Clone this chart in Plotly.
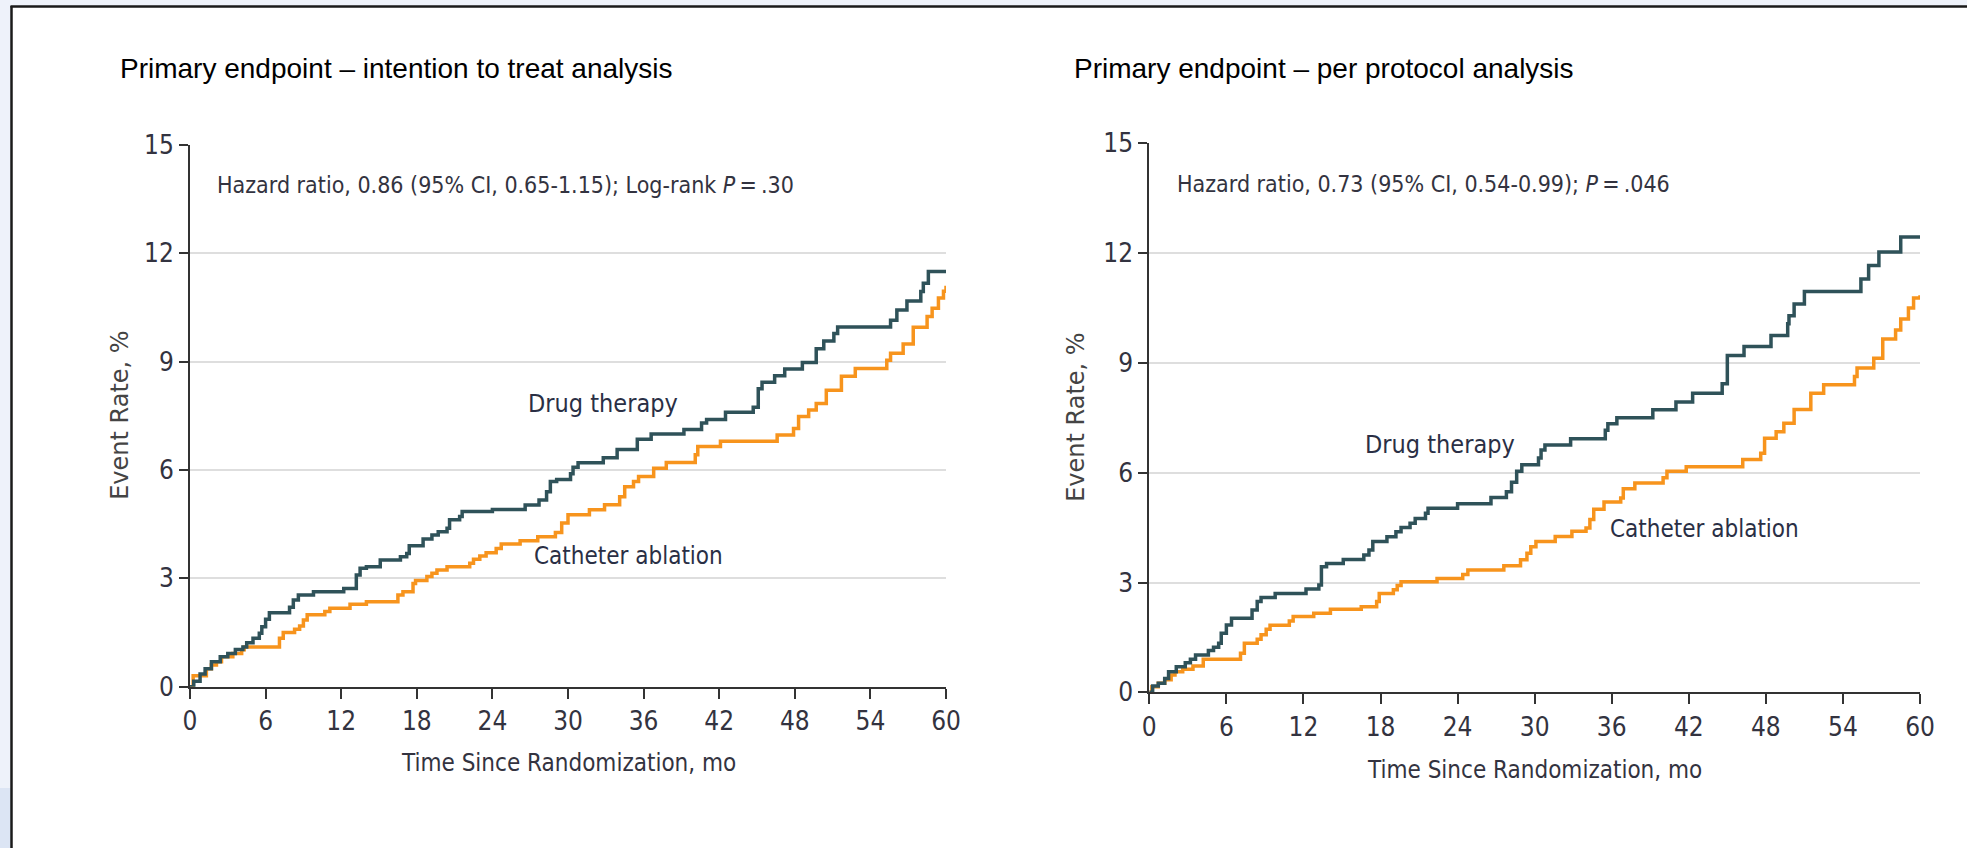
import plotly.graph_objects as go

W, H = 1967, 848

# ---------------- data ----------------
itt_drug_t = [0, 0.3, 0.8, 1.2, 1.7, 2.4, 3.0, 3.6, 4.2, 4.5, 5.0, 5.5, 5.7, 6.0, 6.3, 7.9, 8.2, 8.6, 9.8,
              12.2, 13.2, 13.5, 14.0, 15.1, 16.7, 17.2, 17.4, 18.5, 19.2, 19.7, 20.4, 20.6, 21.4, 21.6, 24.0,
              26.6, 27.7, 28.3, 28.6, 29.1, 30.2, 30.4, 30.8, 32.8, 33.9, 35.5, 36.6, 39.2, 40.6, 41.0, 42.5,
              44.7, 45.1, 45.4, 46.4, 47.2, 48.6, 49.7, 50.3, 51.1, 51.4, 55.6, 56.1, 56.9, 58.0, 58.2, 58.6, 60.0]
itt_drug_v = [0, 0.15, 0.35, 0.5, 0.69, 0.83, 0.92, 1.03, 1.1, 1.22, 1.34, 1.48, 1.66, 1.87, 2.05, 2.2, 2.4, 2.54, 2.63,
              2.72, 3.09, 3.28, 3.32, 3.51, 3.6, 3.69, 3.9, 4.09, 4.2, 4.29, 4.39, 4.62, 4.71, 4.85, 4.91,
              5.03, 5.17, 5.4, 5.68, 5.74, 5.9, 6.08, 6.2, 6.34, 6.57, 6.85, 7.0, 7.12, 7.3, 7.4, 7.6,
              7.74, 8.25, 8.43, 8.61, 8.8, 8.98, 9.36, 9.57, 9.78, 9.96, 10.15, 10.43, 10.68, 10.94, 11.17, 11.5, 11.5]

itt_cath_t = [0, 0.25, 1.3, 1.7, 2.1, 2.5, 3.4, 4.1, 4.3, 7.1, 7.4, 8.3, 8.7, 9.0, 9.3, 10.7, 11.1, 12.7, 14.0,
              16.5, 16.9, 17.7, 17.9, 18.8, 19.2, 19.6, 20.4, 22.2, 22.5, 23.0, 23.5, 24.3, 24.7, 26.2, 27.6,
              29.0, 29.5, 30.0, 31.7, 32.9, 34.1, 34.5, 35.2, 35.6, 36.8, 37.8, 40.1, 40.3, 42.1, 46.6, 47.9,
              48.3, 49.1, 49.7, 50.5, 51.7, 52.8, 55.3, 55.6, 56.6, 57.4, 58.5, 58.9, 59.4, 59.8, 60.0]
itt_cath_v = [0, 0.3, 0.5, 0.6, 0.69, 0.83, 0.92, 1.02, 1.1, 1.34, 1.5, 1.59, 1.68, 1.85, 1.99, 2.08, 2.17, 2.28, 2.35,
              2.54, 2.63, 2.86, 2.94, 3.05, 3.14, 3.23, 3.32, 3.42, 3.53, 3.62, 3.71, 3.83, 3.95, 4.04, 4.15,
              4.27, 4.53, 4.76, 4.9, 5.04, 5.26, 5.54, 5.68, 5.82, 6.05, 6.21, 6.42, 6.65, 6.8, 6.97, 7.15,
              7.48, 7.66, 7.84, 8.21, 8.6, 8.81, 9.04, 9.23, 9.49, 9.95, 10.25, 10.48, 10.76, 10.95, 11.1]

pp_drug_t = [0, 0.26, 0.7, 1.2, 1.5, 2.1, 2.8, 3.2, 3.6, 4.6, 5.0, 5.4, 5.6, 6.0, 6.4, 8.0, 8.4, 8.7, 9.8,
             12.2, 13.2, 13.4, 13.8, 15.1, 16.7, 17.1, 17.4, 18.5, 19.2, 19.6, 20.3, 20.7, 21.5, 21.7, 24.0,
             26.6, 27.8, 28.2, 28.6, 29.0, 30.3, 30.5, 30.8, 32.8, 35.5, 35.7, 36.4, 39.2, 41.0, 42.3, 44.6,
             45.0, 46.3, 48.4, 49.7, 49.8, 50.2, 51.0, 55.4, 56.0, 56.8, 58.5, 60.0]
pp_drug_v = [0, 0.17, 0.25, 0.38, 0.56, 0.7, 0.81, 0.9, 1.02, 1.14, 1.23, 1.34, 1.61, 1.84, 2.02, 2.25, 2.48, 2.59, 2.7,
             2.82, 2.93, 3.43, 3.52, 3.63, 3.75, 3.89, 4.12, 4.25, 4.39, 4.5, 4.62, 4.75, 4.89, 5.03, 5.15,
             5.32, 5.48, 5.74, 6.04, 6.22, 6.4, 6.62, 6.76, 6.93, 7.16, 7.34, 7.5, 7.72, 7.93, 8.17, 8.43,
             9.2, 9.45, 9.75, 10.07, 10.29, 10.61, 10.95, 11.29, 11.66, 12.03, 12.44, 12.44]

pp_cath_t = [0, 0.2, 0.7, 1.2, 1.7, 2.0, 2.6, 3.4, 4.2, 7.1, 7.4, 8.4, 8.7, 9.1, 9.4, 10.9, 11.2, 12.8, 14.1,
             16.5, 17.7, 17.9, 19.0, 19.3, 19.6, 22.4, 24.4, 24.8, 27.6, 28.9, 29.4, 29.7, 30.1, 31.6, 32.9,
             34.0, 34.3, 34.6, 35.4, 36.7, 36.9, 37.8, 40.0, 40.3, 41.8, 46.2, 47.6, 47.9, 48.8, 49.4, 50.2,
             51.5, 52.5, 54.9, 55.1, 56.4, 57.1, 58.1, 58.5, 59.1, 59.5, 60.0]
pp_cath_v = [0, 0.15, 0.25, 0.34, 0.47, 0.56, 0.63, 0.72, 0.9, 1.07, 1.34, 1.45, 1.57, 1.72, 1.83, 1.95, 2.07, 2.16, 2.27,
             2.34, 2.48, 2.7, 2.8, 2.92, 3.02, 3.11, 3.22, 3.34, 3.46, 3.62, 3.8, 3.98, 4.12, 4.26, 4.4,
             4.49, 4.72, 5.0, 5.2, 5.31, 5.56, 5.72, 5.86, 6.04, 6.16, 6.36, 6.53, 6.94, 7.12, 7.35, 7.73,
             8.17, 8.4, 8.63, 8.86, 9.13, 9.65, 9.9, 10.2, 10.5, 10.77, 10.85]

x_ticks = [0, 6, 12, 18, 24, 30, 36, 42, 48, 54, 60]
y_ticks = [0, 3, 6, 9, 12, 15]

titles = ["Primary endpoint \u2013 intention to treat analysis",
          "Primary endpoint \u2013 per protocol analysis"]
hr_texts = ["Hazard ratio, 0.86 (95% CI, 0.65-1.15); Log-rank <i>P</i>\u2009=\u2009.30",
            "Hazard ratio, 0.73 (95% CI, 0.54-0.99); <i>P</i>\u2009=\u2009.046"]
series_names = ["Drug therapy", "Catheter ablation"]
drug_label_pos = [(32.8, 7.85), (22.6, 6.78)]
cath_label_pos = [(34.8, 3.62), (43.2, 4.46)]

# ---------------- style ----------------
DRUG_C = "#2f5259"
CATH_C = "#f7941d"
COND = "DejaVu Sans Condensed, Liberation Sans Narrow, sans-serif"
TXT_C = "#333340"

def px_x(p):
    return p / W

def px_y(p):
    return 1 - p / H

areas = [
    dict(x0=190, x1=946, y0=145, y1=686.7),
    dict(x0=1149.3, x1=1920, y0=143.3, y1=692.3),
]

fig = go.Figure()

data_sets = [
    (itt_drug_t, itt_drug_v, itt_cath_t, itt_cath_v),
    (pp_drug_t, pp_drug_v, pp_cath_t, pp_cath_v),
]

for i, (dt, dv, ct, cv) in enumerate(data_sets):
    xa = "x" if i == 0 else "x2"
    ya = "y" if i == 0 else "y2"
    fig.add_trace(go.Scatter(x=ct, y=cv, mode="lines", line=dict(color=CATH_C, width=3.5, shape="hv"),
                             xaxis=xa, yaxis=ya, name=series_names[1], showlegend=False, hoverinfo="skip"))
    fig.add_trace(go.Scatter(x=dt, y=dv, mode="lines", line=dict(color=DRUG_C, width=3.5, shape="hv"),
                             xaxis=xa, yaxis=ya, name=series_names[0], showlegend=False, hoverinfo="skip"))

axis_common_x = dict(range=[0, 60], tickvals=x_ticks, showgrid=False, zeroline=False,
                     showline=True, linecolor="#333333", linewidth=2,
                     ticks="outside", ticklen=10, tickwidth=2, tickcolor="#333333",
                     tickfont=dict(family=COND, size=26, color=TXT_C), fixedrange=True, automargin=False)
axis_common_y = dict(range=[0, 15], tickvals=y_ticks, showgrid=True, gridcolor="#dedede", gridwidth=2,
                     zeroline=False, showline=True, linecolor="#333333", linewidth=2,
                     ticks="outside", ticklen=9, tickwidth=2, tickcolor="#333333",
                     tickfont=dict(family=COND, size=26, color=TXT_C), fixedrange=True, automargin=False)

a0, a1 = areas
fig.update_layout(
    xaxis=dict(domain=[px_x(a0["x0"]), px_x(a0["x1"])], anchor="y", **axis_common_x),
    yaxis=dict(domain=[px_y(a0["y1"]), px_y(a0["y0"])], anchor="x", **axis_common_y),
    xaxis2=dict(domain=[px_x(a1["x0"]), px_x(a1["x1"])], anchor="y2", **axis_common_x),
    yaxis2=dict(domain=[px_y(a1["y1"]), px_y(a1["y0"])], anchor="x2", **axis_common_y),
)

annotations = []
title_x = [118, 1072]
for i in range(2):
    a = areas[i]
    xa = "x" if i == 0 else "x2"
    ya = "y" if i == 0 else "y2"
    annotations.append(dict(text=titles[i], xref="paper", yref="paper", x=px_x(title_x[i]), y=px_y(68),
                            xanchor="left", yanchor="middle", showarrow=False,
                            font=dict(family="Liberation Sans, Arial, sans-serif", size=28, color="#000000")))
    annotations.append(dict(text=hr_texts[i], xref=xa, yref=ya, x=2.0, y=13.9,
                            xanchor="left", yanchor="middle", showarrow=False,
                            font=dict(family=COND, size=23, color=TXT_C)))
    annotations.append(dict(text=series_names[0], xref=xa, yref=ya, x=drug_label_pos[i][0], y=drug_label_pos[i][1],
                            xanchor="center", yanchor="middle", showarrow=False,
                            font=dict(family=COND, size=25, color="#2a2f45")))
    annotations.append(dict(text=series_names[1], xref=xa, yref=ya, x=cath_label_pos[i][0], y=cath_label_pos[i][1],
                            xanchor="center", yanchor="middle", showarrow=False,
                            font=dict(family=COND, size=24, color="#2a2f45")))
    annotations.append(dict(text="Time Since Randomization, mo", xref="paper", yref="paper",
                            x=px_x((a["x0"] + a["x1"]) / 2), y=px_y(763 if i == 0 else 770),
                            xanchor="center", yanchor="middle", showarrow=False,
                            font=dict(family=COND, size=24, color=TXT_C)))
    annotations.append(dict(text="Event Rate, %", xref="paper", yref="paper",
                            x=px_x(120 if i == 0 else 1076), y=px_y((a["y0"] + a["y1"]) / 2),
                            xanchor="center", yanchor="middle", textangle=-90, showarrow=False,
                            font=dict(family="DejaVu Sans, sans-serif", size=24, color="#444444")))

shapes = [
    dict(type="rect", xref="paper", yref="paper", x0=0, x1=px_x(11), y0=0, y1=1,
         fillcolor="#eef2fa", line=dict(width=0), layer="below"),
    dict(type="rect", xref="paper", yref="paper", x0=0, x1=1, y0=px_y(6), y1=1,
         fillcolor="#eef2fa", line=dict(width=0), layer="below"),
    dict(type="rect", xref="paper", yref="paper", x0=0, x1=px_x(11), y0=0, y1=px_y(788),
         fillcolor="#dce5f4", line=dict(width=0), layer="below"),
    dict(type="line", xref="paper", yref="paper", x0=px_x(11.5), x1=px_x(11.5), y0=0, y1=px_y(6),
         line=dict(color="#1a1a1a", width=2.5)),
    dict(type="line", xref="paper", yref="paper", x0=px_x(10.5), x1=1, y0=px_y(6.5), y1=px_y(6.5),
         line=dict(color="#1a1a1a", width=2.5)),
]

fig.update_layout(
    width=W, height=H, margin=dict(l=0, r=0, t=0, b=0, pad=0), autosize=False,
    paper_bgcolor="#ffffff", plot_bgcolor="#ffffff",
    annotations=annotations, shapes=shapes, showlegend=False,
)

post = ("document.documentElement.style.margin='0';document.body.style.margin='0';"
        "document.body.style.padding='0';document.body.style.overflow='hidden';")

fig.write_html("out.html", config={"displayModeBar": False}, post_script=post)
